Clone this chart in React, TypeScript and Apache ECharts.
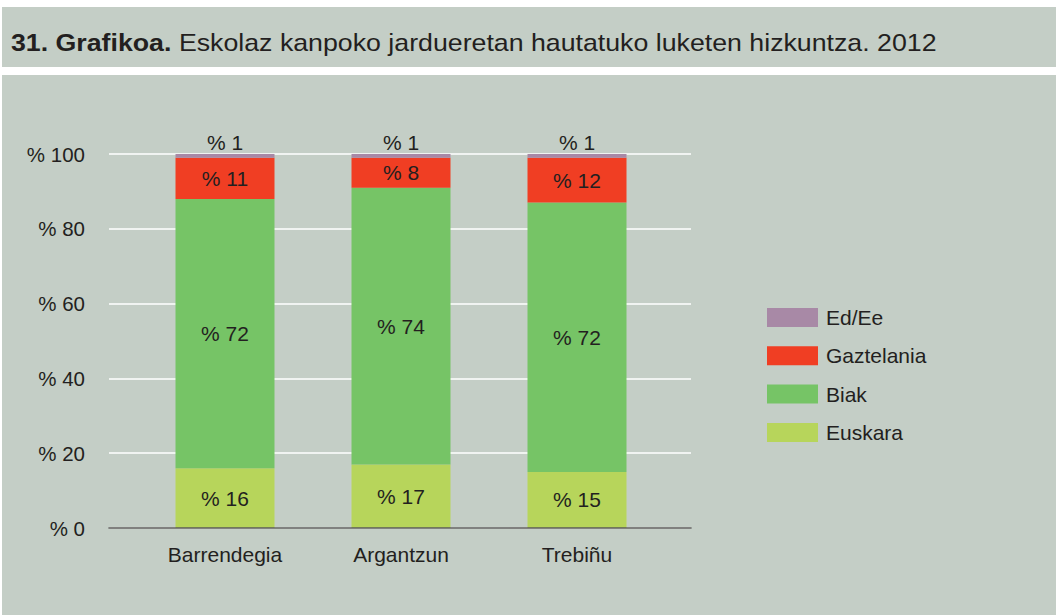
import React, { useEffect, useRef } from "react";
import * as echarts from "echarts";

const categories = ["Barrendegia", "Argantzun", "Trebiñu"];
const euskara = [16, 17, 15];
const biak = [72, 74, 72];
const gaztelania = [11, 8, 12];
const edEe = [1, 1, 1];
const yTicks = { min: 0, max: 100, interval: 20 };

const FONT = "'Liberation Sans', Arial, sans-serif";
const TXT = "#231f20";
const BG = "#c4cec6";

export default function App() {
  const ref = useRef<HTMLDivElement>(null);
  useEffect(() => {
    if (!ref.current) return;
    const chart = echarts.init(ref.current, undefined, { renderer: "svg" });
    const labelBase = {
      show: true,
      formatter: (p: any) => "% " + p.value,
      color: TXT,
      fontSize: 21,
      fontFamily: FONT,
    };
    const mk = (name: string, data: number[], color: string, pos: string = "inside") => ({
      name,
      type: "bar",
      stack: "total",
      xAxisIndex: 1,
      yAxisIndex: 1,
      barWidth: 99,
      data,
      itemStyle: { color },
      label: { ...labelBase, position: pos, distance: pos === "top" ? 1 : 5 },
      emphasis: { disabled: true },
    });
    chart.setOption({
      animation: false,
      textStyle: { fontFamily: FONT },
      graphic: [
        { type: "rect", shape: { x: 2, y: 7, width: 1054, height: 60 }, style: { fill: BG }, z: -10 },
        { type: "rect", shape: { x: 2, y: 75, width: 1054, height: 540 }, style: { fill: BG }, z: -10 },
        {
          type: "text",
          x: 11,
          y: 42,
          scaleX: 1.114,
          style: {
            text: "{b|31. Grafikoa.}{n| Eskolaz kanpoko jardueretan hautatuko luketen hizkuntza. 2012}",
            fill: TXT,
            fontSize: 24,
            fontFamily: FONT,
            verticalAlign: "middle",
            rich: {
              b: { fontWeight: "bold", fontSize: 24, fontFamily: FONT, fill: TXT } as any,
              n: { fontSize: 24, fontFamily: FONT, fill: TXT } as any,
            },
          },
        },
      ],
      legend: {
        orient: "vertical",
        left: 762,
        top: 302,
        itemWidth: 51,
        itemHeight: 19,
        itemGap: 17.3,
        icon: "rect",
        data: ["Ed/Ee", "Gaztelania", "Biak", "Euskara"],
        textStyle: { color: TXT, fontSize: 21, fontFamily: FONT, padding: [0, 0, 0, 3] },
        selectedMode: false,
      },
      grid: [
        { left: 109, width: 582, top: 154, height: 374 },
        { left: 137, width: 528, top: 154, height: 374 },
      ],
      xAxis: [
        {
          type: "category",
          gridIndex: 0,
          data: categories,
          axisLine: { show: true, lineStyle: { color: "#5b5b58", width: 1.5 } },
          axisTick: { show: false },
          axisLabel: { show: false },
          z: 5,
        },
        {
          type: "category",
          gridIndex: 1,
          data: categories,
          axisLine: { show: false },
          axisTick: { show: false },
          axisLabel: { color: TXT, fontSize: 21, fontFamily: FONT, margin: 16 },
        },
      ],
      yAxis: [
        {
          type: "value",
          gridIndex: 0,
          min: yTicks.min,
          max: yTicks.max,
          interval: yTicks.interval,
          axisLine: { show: false },
          axisTick: { show: false },
          splitLine: { show: true, lineStyle: { color: "#ffffff", width: 1.5 } },
          axisLabel: { color: TXT, fontSize: 20.5, fontFamily: FONT, margin: 24, formatter: (v: number) => "% " + v },
        },
        {
          type: "value",
          gridIndex: 1,
          min: yTicks.min,
          max: yTicks.max,
          interval: yTicks.interval,
          show: false,
          splitLine: { show: false },
        },
      ],
      series: [
        mk("Euskara", euskara, "#b7d55b"),
        mk("Biak", biak, "#76c466"),
        mk("Gaztelania", gaztelania, "#f03e23"),
        mk("Ed/Ee", edEe, "#a889a6", "top"),
      ],
    });
    return () => chart.dispose();
  }, []);
  return (
    <div
      ref={ref}
      style={{ position: "fixed", left: 0, top: 0, width: 1056, height: 615, background: "#ffffff" }}
    />
  );
}
